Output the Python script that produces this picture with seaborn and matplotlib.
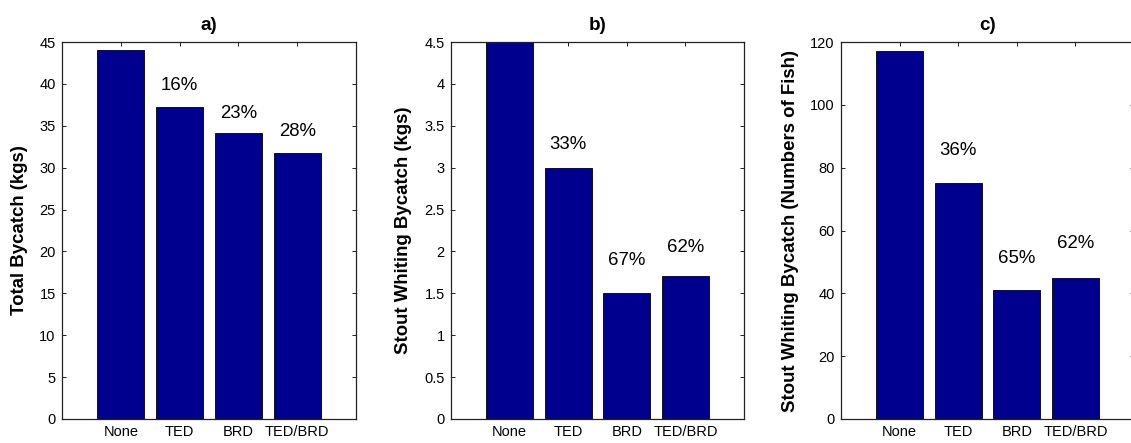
import matplotlib
matplotlib.use("Agg")
import matplotlib.pyplot as plt
import matplotlib.ticker as mticker
import numpy as np
import pandas as pd
import seaborn as sns

# ---- data -------------------------------------------------------------
gears = ["None", "TED", "BRD", "TED/BRD"]

total_bycatch_kg = [44.0, 37.2, 34.1, 31.8]
whiting_bycatch_kg = [4.5, 3.0, 1.5, 1.71]
whiting_bycatch_count = [117, 75, 41, 45]

# reduction relative to the "None" net, shown above TED, BRD and TED/BRD
total_reduction = ["16%", "23%", "28%"]
whiting_kg_reduction = ["33%", "67%", "62%"]
whiting_count_reduction = ["36%", "65%", "62%"]

panel_titles = ["a)", "b)", "c)"]
y_labels = [
    "Total Bycatch (kgs)",
    "Stout Whiting Bycatch (kgs)",
    "Stout Whiting Bycatch (Numbers of Fish)",
]
y_max = [45, 4.5, 120]
y_step = [5, 0.5, 20]

# ---- styling / layout -------------------------------------------------
sns.set_style("ticks")
plt.rcParams["font.family"] = ["Liberation Sans", "DejaVu Sans"]
plt.rcParams["text.color"] = "black"
plt.rcParams["axes.labelcolor"] = "black"

BAR_COLOR = "#00008F"
FIG_W, FIG_H = 1131, 443
# axes boxes in pixels: (left, width)
boxes = [(62, 294), (451, 293), (841, 293)]
AX_TOP, AX_BOTTOM = 42, 419
ylabel_right_edge = [-0.115, -0.133, -0.143]
# label height above each bar top, in points
label_offsets = [[15.6, 14.2, 15.1], [16.8, 23.8, 20.6], [23.8, 23.0, 24.3]]

series = [total_bycatch_kg, whiting_bycatch_kg, whiting_bycatch_count]
reductions = [total_reduction, whiting_kg_reduction, whiting_count_reduction]

fig = plt.figure(figsize=(FIG_W / 100, FIG_H / 100), dpi=100)

for i in range(3):
    left, width = boxes[i]
    ax = fig.add_axes([left / FIG_W, (FIG_H - AX_BOTTOM) / FIG_H,
                       width / FIG_W, (AX_BOTTOM - AX_TOP) / FIG_H])
    df = pd.DataFrame({"gear": gears, "value": series[i]})
    sns.barplot(data=df, x="gear", y="value", color=BAR_COLOR, saturation=1,
                width=0.8, edgecolor="black", linewidth=0.6, ax=ax)

    ax.set_xlim(-1, 4)
    ax.set_ylim(0, y_max[i])
    ax.set_yticks(np.arange(0, y_max[i] + y_step[i] / 2, y_step[i]))
    ax.yaxis.set_major_formatter(mticker.FormatStrFormatter("%g"))
    ax.set_xlabel("")
    ax.set_ylabel(y_labels[i], fontsize=13.4, fontweight="bold", color="black")
    ax.yaxis.set_label_coords(ylabel_right_edge[i], 0.5)
    ax.set_title(panel_titles[i], fontsize=13.6, fontweight="bold", pad=9,
                 color="black")

    for side in ["left", "right", "top", "bottom"]:
        ax.spines[side].set_visible(True)
        ax.spines[side].set_linewidth(0.9)
        ax.spines[side].set_color("#222222")
    ax.tick_params(direction="in", length=3, width=0.7, top=True, right=True,
                   labelsize=10.5, pad=4.5, colors="#222222", labelcolor="black")

    for j, txt in enumerate(reductions[i]):
        k = j + 1
        ax.annotate(txt, xy=(k, series[i][k]), xytext=(0, label_offsets[i][j]),
                    textcoords="offset points", ha="center", va="center",
                    fontsize=13.4, color="black")

fig.savefig("out.png", dpi=100)
